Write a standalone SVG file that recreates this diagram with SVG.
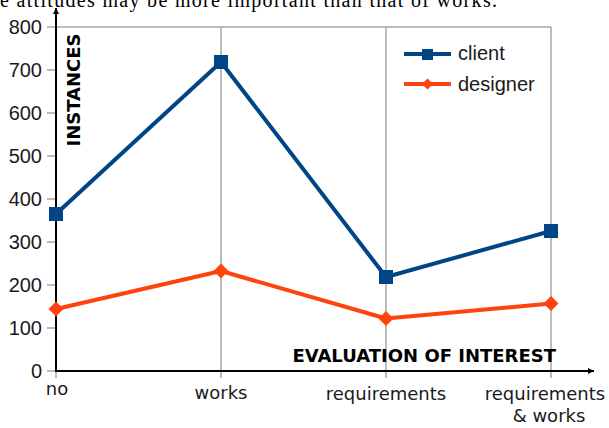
<svg xmlns="http://www.w3.org/2000/svg" width="609" height="428" viewBox="0 0 609 428">
<style>
.grid{stroke:#a6a6a6;stroke-width:1.5;fill:none}
.axis{stroke:#000;stroke-width:2;fill:none}
.tick{font-family:"Liberation Sans",Arial,sans-serif;font-size:20px;fill:#1a1a1a;text-anchor:end}
.cat{font-family:"DejaVu Sans",sans-serif;font-size:18px;fill:#1a1a1a;text-anchor:middle}
.title{font-family:"DejaVu Sans",sans-serif;font-size:18px;font-weight:bold;fill:#000}
.leg{font-family:"Liberation Sans",Arial,sans-serif;font-size:20px;fill:#1a1a1a}
.client{stroke:#004586;stroke-width:4;fill:none;stroke-linejoin:round}
.designer{stroke:#ff420e;stroke-width:4;fill:none;stroke-linejoin:round}
</style>
<defs>
<marker id="arr" viewBox="0 0 10 10" refX="10" refY="5" markerWidth="6" markerHeight="6" markerUnits="userSpaceOnUse" orient="auto"><path d="M0,0 L10,5 L0,10 Z" fill="#000"/></marker>
<rect id="sq" x="-7" y="-7" width="14" height="14" fill="#004586"/>
<path id="dm" d="M0,-7.5 L7.5,0 L0,7.5 L-7.5,0 Z" fill="#ff420e"/>
</defs>
<rect width="609" height="428" fill="#fff"/>
<text x="0" y="7" font-family="Liberation Serif,serif" font-size="20" fill="#000" textLength="497">e attitudes may be more important than that of works.</text>
<g id="grid">
<path class="grid" d="M47,27H551 M221,27V378 M386,27V378 M551,27V378 M56,371V378"/>
<path class="grid" d="M47,70H56 M47,113H56 M47,156H56 M47,199H56 M47,242H56 M47,285H56 M47,328H56 M47,371H56"/>
</g>
<g id="ticklabels">
<text class="tick" x="42" y="34">800</text>
<text class="tick" x="42" y="77">700</text>
<text class="tick" x="42" y="120">600</text>
<text class="tick" x="42" y="163">500</text>
<text class="tick" x="42" y="206">400</text>
<text class="tick" x="42" y="249">300</text>
<text class="tick" x="42" y="292">200</text>
<text class="tick" x="42" y="335">100</text>
<text class="tick" x="42" y="378">0</text>
</g>
<g id="categories">
<text class="cat" x="57" y="395">no</text>
<text class="cat" x="221" y="399">works</text>
<text class="cat" x="386" y="400">requirements</text>
<text class="cat" x="545" y="400">requirements</text>
<text class="cat" x="549" y="422">&amp; works</text>
</g>
<g id="connectors">
<path class="axis" d="M56,372V8" marker-end="url(#arr)"/>
<path class="axis" d="M55,371H594" marker-end="url(#arr)"/>
<polyline class="client" points="56,214 221,62 386,277 551,231"/>
<polyline class="designer" points="56,309 221,271 386,318.5 551,303.5"/>
</g>
<g id="client-points">
<use href="#sq" x="56" y="214"/>
<use href="#sq" x="221" y="62"/>
<use href="#sq" x="386" y="277"/>
<use href="#sq" x="551" y="231"/>
</g>
<g id="designer-points">
<use href="#dm" x="56" y="309"/>
<use href="#dm" x="221" y="271"/>
<use href="#dm" x="386" y="318.5"/>
<use href="#dm" x="551" y="303.5"/>
</g>
<g id="axis-titles">
<text class="title" transform="translate(80,90) rotate(-90)" text-anchor="middle">INSTANCES</text>
<text class="title" x="556" y="362" text-anchor="end">EVALUATION OF INTEREST</text>
</g>
<g id="legend">
<path class="client" d="M404,54H451"/>
<rect x="422" y="49" width="11" height="11" fill="#004586"/>
<text class="leg" x="458" y="60">client</text>
<path class="designer" d="M404,84H451"/>
<path d="M427.5,78.5 L433,84 L427.5,89.5 L422,84 Z" fill="#ff420e"/>
<text class="leg" x="458" y="91">designer</text>
</g>
</svg>
